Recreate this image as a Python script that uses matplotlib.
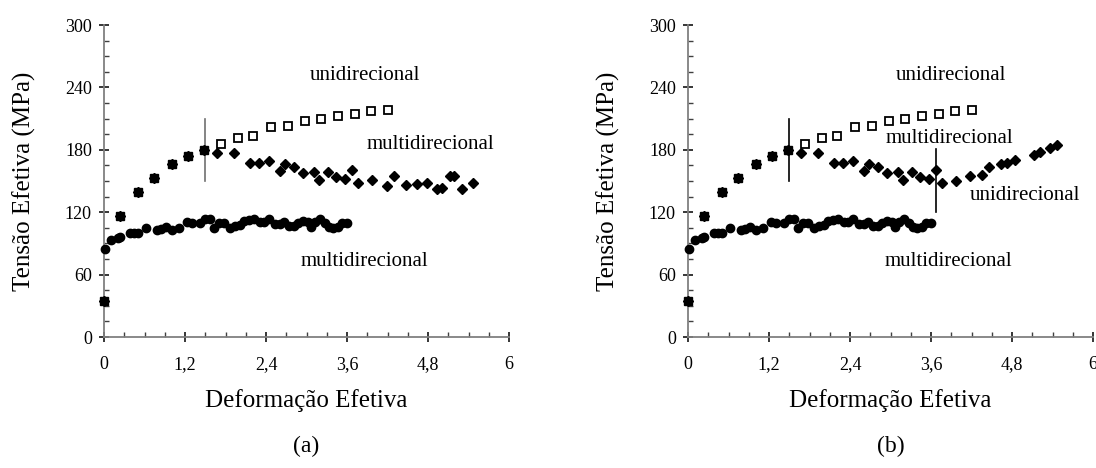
import matplotlib
matplotlib.use("Agg")
import matplotlib.pyplot as plt
from matplotlib.ticker import MultipleLocator, FixedLocator

plt.rcParams['font.family'] = ['Liberation Serif', 'DejaVu Serif']

# ---- data ----
# shared initial loading (both paths coincide)
pre_x = [0.0, 0.23, 0.50, 0.74, 1.01, 1.24, 1.48]
pre_y = [35, 116, 139, 152.6, 166, 174, 179.5]

# unidirectional continuation (open squares)
uni_x = [1.74, 1.98, 2.21, 2.48, 2.72, 2.98, 3.22, 3.46, 3.72, 3.96, 4.20]
uni_y = [185.8, 191.7, 193.6, 201.5, 203.3, 207.4, 209.4, 212.7, 214.7, 217.2, 218.5]

# multidirectional after path change (diamonds), panel (a)
multi_a_x = [1.67, 1.93, 2.17, 2.29, 2.44, 2.61, 2.68, 2.82, 2.95, 3.11, 3.19, 3.32,
             3.43, 3.57, 3.68, 3.77, 3.97, 4.19, 4.29, 4.48, 4.64, 4.78, 4.93, 5.00,
             5.12, 5.19, 5.31, 5.46]
multi_a_y = [177, 177, 167.6, 167.6, 169.5, 159.5, 166, 163, 158, 158.3, 151, 158.5,
             153.5, 152, 160.3, 148, 150.5, 145, 154.5, 146, 147, 148.4, 142, 143.6,
             154.8, 154.8, 142, 147.8]

# panel (b): multidirectional then back to unidirectional after x = 3.68
multi_b_x = [1.67, 1.93, 2.17, 2.29, 2.44, 2.61, 2.68, 2.82, 2.95, 3.11, 3.19, 3.32,
             3.43, 3.57, 3.68]
multi_b_y = [177, 177, 167.6, 167.6, 169.5, 159.5, 166, 163, 158, 158.3, 151, 158.5,
             153.5, 152, 160.3]
back_x = [3.77, 3.97, 4.18, 4.36, 4.46, 4.64, 4.72, 4.85, 5.13, 5.21, 5.37, 5.46]
back_y = [148, 150.3, 154.5, 156, 163, 166, 167.3, 170.2, 175.3, 178.2, 181.5, 184.6]

# multidirectional from the start (circles)
circ_x = [0.02, 0.11, 0.20, 0.23, 0.38, 0.44, 0.50, 0.62, 0.79, 0.85, 0.92, 1.00, 1.11,
          1.23, 1.30, 1.42, 1.49, 1.57, 1.63, 1.71, 1.78, 1.86, 1.94, 2.01, 2.07, 2.15,
          2.22, 2.31, 2.37, 2.45, 2.53, 2.60, 2.67, 2.74, 2.81, 2.87, 2.95, 3.02, 3.06,
          3.13, 3.20, 3.27, 3.33, 3.39, 3.46, 3.53, 3.60]
circ_y = [84.3, 93.3, 94.9, 95.8, 99.7, 99.7, 99.7, 105, 102.9, 103.5, 105.4, 102.9, 105.1,
          110.9, 109.9, 109.9, 113.5, 113.2, 105.1, 109.3, 109.3, 105.1, 106.7, 107.7, 111.5,
          112.5, 113.5, 110.9, 110.9, 113.2, 108.7, 108.7, 110.9, 106.7, 106.7, 109.9, 111.8,
          110.9, 106, 110.9, 113.5, 109.9, 106, 104.5, 106, 109.3, 109.3]

# marker lines (strain path changes)
change1_x = 1.49
change1_y = [150, 210]
change2_x = 3.68
change2_y = [120, 181]

x_ticks = [0, 1.2, 2.4, 3.6, 4.8, 6]
x_ticklabels = ['0', '1,2', '2,4', '3,6', '4,8', '6']
y_ticks = [0, 60, 120, 180, 240, 300]
y_ticklabels = ['0', '60', '120', '180', '240', '300']

fig = plt.figure(figsize=(10.96, 4.68), dpi=100)
W, H = 1096, 468
ax_a = fig.add_axes([104 / W, (H - 337) / H, 405 / W, 312 / H])
ax_b = fig.add_axes([688 / W, (H - 337) / H, 405 / W, 312 / H])

spine_col = '#808080'


def style(ax):
    ax.set_xlim(0, 6)
    ax.set_ylim(0, 300)
    for s in ['top', 'right']:
        ax.spines[s].set_visible(False)
    for s in ['left', 'bottom']:
        ax.spines[s].set_color(spine_col)
        ax.spines[s].set_linewidth(1.3)
    ax.xaxis.set_major_locator(FixedLocator(x_ticks))
    ax.set_xticklabels(x_ticklabels)
    ax.yaxis.set_major_locator(FixedLocator(y_ticks))
    ax.set_yticklabels(y_ticklabels)
    ax.xaxis.set_minor_locator(MultipleLocator(0.3))
    ax.yaxis.set_minor_locator(MultipleLocator(15))
    ax.tick_params(which='major', direction='inout', length=7.5, width=1.1,
                   color='black', labelsize=13)
    ax.tick_params(axis='x', which='major', pad=10)
    ax.tick_params(axis='y', which='major', pad=5)
    ax.tick_params(which='minor', direction='in', length=3.5, width=1.0, color='#404040')
    ax.set_xlabel('Deformação Efetiva', fontsize=18)
    ax.set_ylabel('Tensão Efetiva (MPa)', fontsize=18)
    ax.xaxis.set_label_coords(0.5, -0.168)
    ax.yaxis.set_label_coords(-0.168, 0.5)


def common(ax, line_col):
    ms_d = 5.0
    ax.plot(pre_x, pre_y, 's', color='black', ms=6.0, clip_on=False, zorder=3)
    ax.plot(pre_x, pre_y, 'D', color='black', ms=ms_d, clip_on=False, zorder=3)
    ax.plot(uni_x, uni_y, 's', mfc='white', mec='black', mew=1.3, ms=5.5, zorder=3)
    ax.plot(circ_x, circ_y, 'o', color='black', ms=6.0, clip_on=False, zorder=3)
    ax.plot([change1_x, change1_x], change1_y, '-', color=line_col, lw=1.2, zorder=2)


fs_t = 15
style(ax_a)
common(ax_a, '#707070')
ax_a.plot(multi_a_x, multi_a_y, 'D', color='black', ms=5.0, zorder=3)
ax_a.text(3.87, 251, 'unidirecional', fontsize=fs_t, ha='center', va='center')
ax_a.text(4.84, 185, 'multidirecional', fontsize=fs_t, ha='center', va='center')
ax_a.text(3.86, 73, 'multidirecional', fontsize=fs_t, ha='center', va='center')

style(ax_b)
common(ax_b, 'black')
ax_b.plot(multi_b_x, multi_b_y, 'D', color='black', ms=5.0, zorder=3)
ax_b.plot(back_x, back_y, 'D', color='black', ms=5.0, zorder=3)
ax_b.plot([change2_x, change2_x], change2_y, '-', color='black', lw=1.2, zorder=2)
ax_b.text(3.90, 251, 'unidirecional', fontsize=fs_t, ha='center', va='center')
ax_b.text(3.87, 191, 'multidirecional', fontsize=fs_t, ha='center', va='center')
ax_b.text(4.99, 136.5, 'unidirecional', fontsize=fs_t, ha='center', va='center')
ax_b.text(3.86, 73, 'multidirecional', fontsize=fs_t, ha='center', va='center')

fig.text(306.5 / W, (H - 446) / H, '(a)', fontsize=17, ha='center', va='center')
fig.text(890.5 / W, (H - 446) / H, '(b)', fontsize=17, ha='center', va='center')

fig.savefig('out.png', dpi=100)
